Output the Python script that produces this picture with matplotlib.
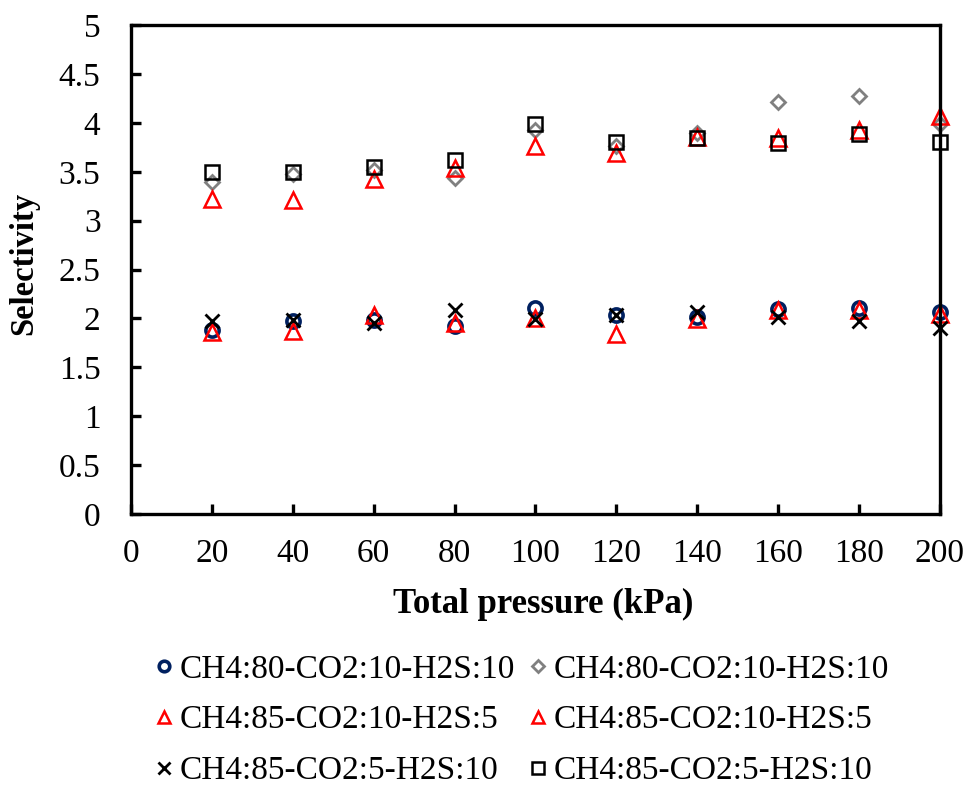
import numpy as np
import matplotlib.pyplot as plt

plt.rcParams['font.family'] = ['Liberation Serif', 'DejaVu Serif']
plt.rcParams['font.size'] = 24

# Total pressure (kPa)
pressure = [20, 40, 60, 80, 100, 120, 140, 160, 180, 200]

# Selectivity for each feed composition (lower group)
sel_80_10_10_a = [1.88, 1.97, 1.98, 1.92, 2.11, 2.03, 2.01, 2.10, 2.11, 2.07]
sel_85_10_5_a = [1.86, 1.87, 2.03, 1.95, 2.00, 1.84, 1.99, 2.09, 2.09, 2.05]
sel_85_5_10_a = [1.97, 1.98, 1.95, 2.09, 1.99, 2.03, 2.07, 2.01, 1.97, 1.90]

# Selectivity for each feed composition (upper group)
sel_80_10_10_b = [3.40, 3.48, 3.52, 3.44, 3.93, 3.76, 3.90, 4.21, 4.28, 3.99]
sel_85_10_5_b = [3.22, 3.21, 3.43, 3.54, 3.76, 3.69, 3.86, 3.85, 3.93, 4.07]
sel_85_5_10_b = [3.50, 3.50, 3.55, 3.62, 3.99, 3.81, 3.85, 3.79, 3.89, 3.81]

labels = ['CH4:80-CO2:10-H2S:10', 'CH4:85-CO2:10-H2S:5', 'CH4:85-CO2:5-H2S:10']

fig = plt.figure(figsize=(9.65, 7.87), dpi=100)
ax = fig.add_axes([0.1358, 0.347, 0.838, 0.621])

kw = dict(linestyle='none', clip_on=False, markerfacecolor='none')
ax.plot(pressure, sel_80_10_10_a, marker='o', ms=9.5, mew=2.6, color='#002060', label=labels[0], **kw)
ax.plot(pressure, sel_85_10_5_a, marker='^', ms=11, mew=1.8, color='red', label=labels[1], **kw)
ax.plot(pressure, sel_85_5_10_a, marker='x', ms=10, mew=2.0, color='black', label=labels[2], **kw)
ax.plot(pressure, sel_80_10_10_b, marker='D', ms=7.2, mew=2.0, color='#808080', label=labels[0], **kw)
ax.plot(pressure, sel_85_10_5_b, marker='^', ms=11, mew=1.8, color='red', label=labels[1], **kw)
ax.plot(pressure, sel_85_5_10_b, marker='s', ms=10, mew=1.8, color='black', label=labels[2], **kw)

ax.set_xlim(0, 200)
ax.set_ylim(0, 5)
ax.set_xticks(np.arange(0, 201, 20))
ax.set_yticks(np.arange(0, 5.01, 0.5))
ax.set_yticklabels(['0', '0.5', '1', '1.5', '2', '2.5', '3', '3.5', '4', '4.5', '5'])

for s in ax.spines.values():
    s.set_linewidth(2.4)
ax.tick_params(direction='in', length=7, width=2.4, labelsize=24)
ax.tick_params(axis='x', pad=18)
ax.tick_params(axis='y', pad=22)

ax.set_xlabel('Total pressure (kPa)', fontweight='bold', fontsize=25)
ax.xaxis.set_label_coords(0.51, -0.152)
ax.set_ylabel('Selectivity', fontweight='bold', fontsize=23.5)
ax.yaxis.set_label_coords(-0.113, 0.513)

ax.legend(ncol=2, loc='upper center', bbox_to_anchor=(0.541, 0.19), bbox_transform=fig.transFigure,
          frameon=False, fontsize=24, handlelength=0.5, handletextpad=0.22, columnspacing=0.45,
          labelspacing=0.61, markerscale=0.8, numpoints=1, borderpad=0)

fig.savefig('out.png', dpi=100)
